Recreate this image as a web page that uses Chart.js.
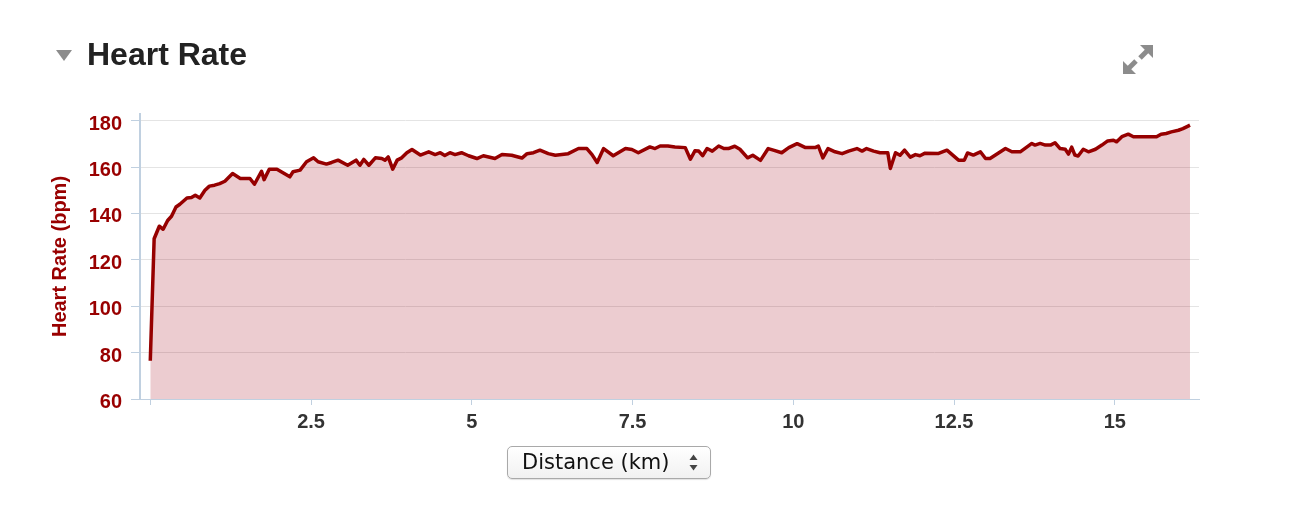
<!DOCTYPE html>
<html>
<head>
<meta charset="utf-8">
<script src="https://cdn.jsdelivr.net/npm/chart.js@4"></script>
<style>
  html, body { margin:0; padding:0; background:#fff; }
  body { width:1302px; height:526px; position:relative; overflow:hidden; font-family:"Liberation Sans", Arial, sans-serif; }
  #wrap { position:absolute; left:0; top:0; width:1302px; height:526px; }
  #title { position:absolute; left:87px; top:38px; font-size:32px; line-height:32px; font-weight:bold; color:#222; }
  #select { position:absolute; left:507px; top:446px; width:202px; height:31px; border:1px solid #a9a9a9; border-radius:5px;
    background:linear-gradient(#ffffff, #f1f1f1); box-shadow:0 1px 1px rgba(0,0,0,0.12);
    font-family:"DejaVu Sans", sans-serif; font-size:21px; line-height:31px; color:#111; }
  #select span { position:absolute; left:14px; top:0; }
  #icons { position:absolute; left:0; top:0; }
</style>
</head>
<body>
<div id="wrap"><canvas id="chart" width="1302" height="526"></canvas></div>

<div id="title">Heart Rate</div>
<div id="select"><span>Distance (km)</span></div>

<svg id="icons" width="1302" height="526">
  <polygon points="56,50 72,50 64,61" fill="#8c8c8c"/>
  <g fill="#8c8c8c" stroke="#8c8c8c">
    <polygon points="1140,45 1153,45 1153,58" stroke="none"/>
    <line x1="1148" y1="50" x2="1140" y2="58" stroke-width="5"/>
    <polygon points="1123,61 1123,74 1136,74" stroke="none"/>
    <line x1="1128" y1="69" x2="1136" y2="61" stroke-width="5"/>
  </g>
  <polygon points="689.5,460 697.5,460 693.5,454.5" fill="#444"/>
  <polygon points="689.5,465 697.5,465 693.5,470.5" fill="#444"/>
</svg>

<script>
// distance (km) and heart rate (bpm)
const distance = [
  0.00, 0.06, 0.14, 0.20, 0.27, 0.33, 0.40, 0.46, 0.57, 0.64, 0.70, 0.77, 0.85, 0.92, 1.00, 1.08, 1.16, 1.28, 1.40, 1.55,
  1.62, 1.73, 1.77, 1.85, 1.97, 2.17, 2.22, 2.33, 2.43, 2.54, 2.61, 2.74, 2.82, 2.92, 3.07, 3.20, 3.26, 3.32, 3.40, 3.50,
  3.60, 3.65, 3.70, 3.77, 3.84, 3.91, 3.99, 4.07, 4.20, 4.33, 4.43, 4.51, 4.58, 4.66, 4.74, 4.84, 4.95, 5.08, 5.18, 5.36,
  5.47, 5.62, 5.78, 5.86, 5.96, 6.06, 6.19, 6.30, 6.50, 6.66, 6.79, 6.87, 6.95, 7.05, 7.20, 7.39, 7.49, 7.59, 7.77, 7.85,
  7.93, 8.05, 8.16, 8.32, 8.40, 8.47, 8.53, 8.59, 8.66, 8.74, 8.84, 8.92, 8.99, 9.09, 9.17, 9.29, 9.37, 9.49, 9.61, 9.69,
  9.82, 9.93, 10.06, 10.19, 10.34, 10.39, 10.46, 10.54, 10.65, 10.76, 10.86, 10.99, 11.07, 11.14, 11.25, 11.35, 11.47, 11.51, 11.59, 11.66,
  11.73, 11.82, 11.90, 11.97, 12.05, 12.26, 12.39, 12.57, 12.66, 12.71, 12.80, 12.91, 12.99, 13.06, 13.30, 13.40, 13.53, 13.71, 13.76, 13.84,
  13.92, 14.00, 14.07, 14.15, 14.23, 14.28, 14.33, 14.38, 14.43, 14.51, 14.59, 14.70, 14.80, 14.89, 14.98, 15.03, 15.11, 15.21, 15.29, 15.65,
  15.72, 15.80, 15.88, 15.99, 16.06, 16.14, 16.17
];
const heartRate = [
  76.5, 129.1, 134.5, 133.2, 137.0, 138.8, 142.8, 144.0, 146.7, 146.9, 147.9, 146.7, 150.0, 151.8, 152.2, 152.9, 153.9, 157.2, 155.1, 155.1,
  152.6, 158.2, 154.6, 159.1, 159.1, 155.8, 158.0, 158.7, 162.3, 164.0, 162.3, 161.3, 162.0, 163.0, 160.8, 163.0, 160.8, 163.3, 160.8, 164.0,
  163.7, 163.0, 164.4, 159.1, 163.0, 164.0, 166.2, 167.6, 165.2, 166.6, 165.4, 166.2, 165.0, 166.2, 165.4, 166.2, 164.9, 163.7, 164.9, 163.7,
  165.4, 165.1, 163.9, 165.8, 166.2, 167.3, 165.8, 165.1, 165.8, 168.0, 168.0, 165.4, 162.0, 168.0, 164.9, 168.0, 167.6, 166.2, 168.7, 168.0,
  169.1, 169.1, 168.7, 168.4, 163.4, 167.0, 166.9, 164.9, 168.0, 166.9, 169.1, 168.0, 168.0, 169.0, 167.7, 164.0, 165.1, 162.9, 168.0, 167.3,
  166.2, 168.4, 170.1, 168.4, 168.4, 169.1, 164.0, 168.0, 166.6, 165.8, 166.9, 168.0, 166.9, 168.0, 166.9, 166.2, 166.2, 159.4, 166.2, 165.1,
  167.3, 164.3, 165.4, 164.9, 166.0, 165.9, 167.3, 163.0, 163.0, 166.1, 165.2, 166.6, 163.7, 163.7, 168.0, 166.6, 166.6, 170.2, 169.5, 170.2,
  169.5, 169.5, 170.5, 168.0, 167.7, 165.6, 168.6, 165.2, 164.8, 167.7, 166.6, 167.7, 169.5, 171.3, 171.6, 170.9, 173.1, 174.2, 173.1, 173.1,
  174.2, 174.5, 175.2, 175.9, 176.6, 177.7, 178.1
];
const xTicks = [0, 2.5, 5, 7.5, 10, 12.5, 15];
const yTicks = [60, 80, 100, 120, 140, 160, 180];

const red = '#960000';
const axisBlue = '#C0D0E0';
const labelFont = { family: 'Liberation Sans', size: 20, weight: 'bold' };

const points = distance.map((d, i) => ({ x: d, y: heartRate[i] }));

new Chart(document.getElementById('chart'), {
  type: 'line',
  data: {
    datasets: [{
      label: 'Heart Rate',
      data: points,
      borderColor: red,
      borderWidth: 3.5,
      backgroundColor: 'rgba(160,0,20,0.2)',
      fill: 'start',
      pointRadius: 0,
      tension: 0,
      borderJoinStyle: 'round'
    }]
  },
  options: {
    responsive: false,
    animation: false,
    layout: { padding: { left: 0, top: 114, right: 103, bottom: 0 } },
    plugins: { legend: { display: false }, tooltip: { enabled: false } },
    scales: {
      x: {
        type: 'linear',
        min: -0.16,
        max: 16.31,
        afterBuildTicks: s => { s.ticks = xTicks.map(v => ({ value: v })); },
        afterFit: s => { s.height = 127; },
        grid: { drawOnChartArea: false, drawTicks: true, tickLength: 6, tickColor: axisBlue, tickWidth: 1 },
        border: { color: axisBlue, width: 1 },
        ticks: {
          padding: 5,
          color: '#333',
          font: labelFont,
          callback: v => (v === 0 ? '' : v)
        }
      },
      y: {
        min: 60,
        max: 182.9,
        afterBuildTicks: s => { s.ticks = yTicks.map(v => ({ value: v })); },
        afterFit: s => { s.width = 140; },
        grid: { color: '#e4e4e4', lineWidth: 1, tickLength: 9, tickColor: axisBlue },
        border: { color: axisBlue, width: 2 },
        ticks: {
          padding: 9,
          labelOffset: 3.5,
          color: '#990000',
          font: labelFont
        },
        title: {
          display: true,
          text: 'Heart Rate (bpm)',
          color: '#990000',
          font: labelFont,
          padding: { top: 48, bottom: 0 }
        }
      }
    }
  }
});
</script>
</body>
</html>
